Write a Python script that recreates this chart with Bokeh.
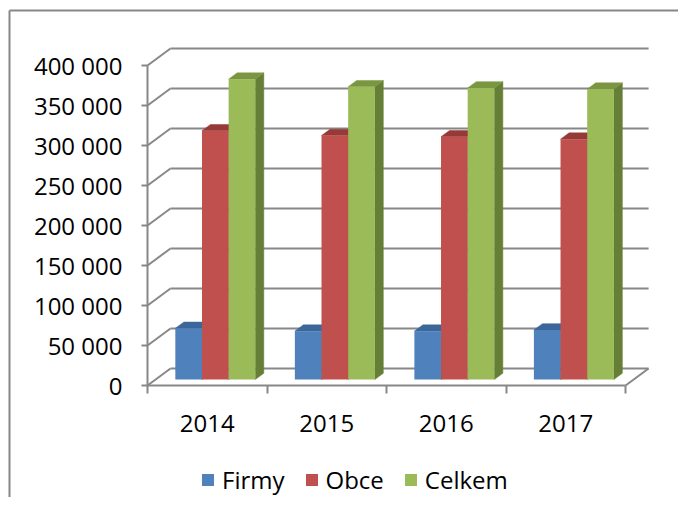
from bokeh.plotting import figure
from bokeh.models import FixedTicker, Legend, LegendItem, Range1d, LinearAxis
from bokeh.embed import file_html
from bokeh.resources import INLINE

# ---- data ----
years = ["2014", "2015", "2016", "2017"]
firmy = [64000, 60500, 60500, 62000]
obce = [311000, 305000, 303500, 300500]
celkem = [375500, 366000, 364500, 363000]
series_names = ["Firmy", "Obce", "Celkem"]
y_ticks = [0, 50000, 100000, 150000, 200000, 250000, 300000, 350000, 400000]
y_tick_labels = ["0", "50 000", "100 000", "150 000", "200 000", "250 000",
                 "300 000", "350 000", "400 000"]

# ---- style ----
FONT = "Open Sans"
FS = "24px"
GRID = "#878787"
front_cols = ["#4F81BD", "#C0504D", "#9BBB59"]
top_cols = ["#3C679B", "#963A38", "#7A9640"]
side_cols = ["#36597F", "#8A3432", "#667F37"]

W, H = 678, 497          # canvas size (px)
ORIG_X, ORIG_Y = 147, 385  # pixel position of (0, 0) on the canvas
PX_X = 119.52            # px per category
PX_Y = 1 / 1250          # px per value unit

DX = 0.1925     # depth offset in category units (wall depth)
DY = 21250      # depth offset in value units
T1, T2 = 0.35, 0.72   # bar depth span (fraction of wall depth)
BW = 0.223      # bar width (category units)
G0 = (1 - 3 * BW) / 2

x0r = -ORIG_X / PX_X
y0r = -(H - ORIG_Y) / PX_Y
p = figure(width=W, height=H, output_backend="svg", toolbar_location=None,
           x_range=Range1d(x0r, x0r + W / PX_X),
           y_range=Range1d(y0r, y0r + H / PX_Y),
           x_axis_location=None, y_axis_location=None, min_border=0,
           title=None)
p.outline_line_color = None
p.xgrid.visible = False
p.ygrid.visible = False
p.background_fill_color = "white"
p.border_fill_color = "white"

# chart-area border (left and top edges)
bx = x0r + 9 / PX_X
by = y0r + (H - 10) / PX_Y
p.segment(x0=[bx, bx], y0=[by, by], x1=[x0r + W / PX_X, bx], y1=[by, y0r],
          line_color=GRID, line_width=2)

# back wall gridlines + left wall diagonals
gx0 = [DX] * len(y_ticks)
gx1 = [4 + DX] * len(y_ticks)
gy = [t + DY for t in y_ticks]
p.segment(x0=gx0, y0=gy, x1=gx1, y1=gy, line_color=GRID, line_width=2)
p.segment(x0=[0] * len(y_ticks), y0=y_ticks, x1=gx0, y1=gy, line_color=GRID, line_width=2)
# floor right edge
p.segment(x0=[4], y0=[0], x1=[4 + DX], y1=[DY], line_color=GRID, line_width=2)

# bars
all_vals = [firmy, obce, celkem]
sides = {j: ([], []) for j in range(3)}
tops = {j: ([], []) for j in range(3)}
fronts = {j: dict(l=[], r=[], b=[], t=[]) for j in range(3)}
dxs = (T2 - T1) * DX
dys = (T2 - T1) * DY
for i in range(len(years)):
    for j in range(3):
        v = all_vals[j][i]
        xl = i + G0 + j * BW + T1 * DX
        xr = xl + BW
        yb = T1 * DY
        yt = v + T1 * DY
        fronts[j]["l"].append(xl); fronts[j]["r"].append(xr)
        fronts[j]["b"].append(yb); fronts[j]["t"].append(yt)
        tops[j][0].append([xl, xr, xr + dxs, xl + dxs])
        tops[j][1].append([yt, yt, yt + dys, yt + dys])
        sides[j][0].append([xr, xr, xr + dxs, xr + dxs])
        sides[j][1].append([yb, yt, yt + dys, yb + dys])

for j in range(3):
    p.patches(xs=sides[j][0], ys=sides[j][1], fill_color=side_cols[j],
              line_color=side_cols[j], line_width=0.5)
for j in range(3):
    p.patches(xs=tops[j][0], ys=tops[j][1], fill_color=top_cols[j],
              line_color=top_cols[j], line_width=0.5)
front_r = []
for j in range(3):
    r = p.quad(left=fronts[j]["l"], right=fronts[j]["r"], bottom=fronts[j]["b"],
               top=fronts[j]["t"], fill_color=front_cols[j], line_color=None)
    front_r.append(r)

# axes
ya = LinearAxis(fixed_location=0)
ya.ticker = FixedTicker(ticks=y_ticks)
ya.major_label_overrides = {t: l for t, l in zip(y_ticks, y_tick_labels)}
ya.bounds = (0, 400000)
ya.axis_line_color = GRID
ya.axis_line_width = 2
ya.major_tick_line_color = GRID
ya.major_tick_line_width = 2
ya.major_tick_out = 6
ya.major_tick_in = 0
ya.minor_tick_line_color = None
ya.major_label_text_font = FONT
ya.major_label_text_font_size = FS
ya.major_label_text_color = "black"
ya.major_label_standoff = 19
p.add_layout(ya, "left")

centers = [i + 0.5 for i in range(len(years))]
xa = LinearAxis(fixed_location=0)
xa.ticker = FixedTicker(ticks=centers, minor_ticks=list(range(len(years) + 1)))
xa.major_label_overrides = {c: y for c, y in zip(centers, years)}
xa.bounds = (0, 4)
xa.axis_line_color = GRID
xa.axis_line_width = 2
xa.major_tick_line_color = None
xa.major_tick_out = 0
xa.major_tick_in = 0
xa.minor_tick_line_color = GRID
xa.minor_tick_line_width = 2
xa.minor_tick_out = 8
xa.minor_tick_in = 0
xa.major_label_text_font = FONT
xa.major_label_text_font_size = FS
xa.major_label_text_color = "black"
xa.major_label_standoff = 21
p.add_layout(xa, "below")

legend = Legend(items=[LegendItem(label=n, renderers=[r]) for n, r in zip(series_names, front_r)],
                orientation="horizontal", location=(200, 1),
                border_line_color=None, background_fill_alpha=0,
                glyph_width=15, glyph_height=15, label_standoff=7, spacing=19,
                padding=0, margin=0,
                label_text_font=FONT, label_text_font_size=FS, label_text_color="black")
p.add_layout(legend, "center")

open("out.html", "w").write(file_html(p, INLINE))
